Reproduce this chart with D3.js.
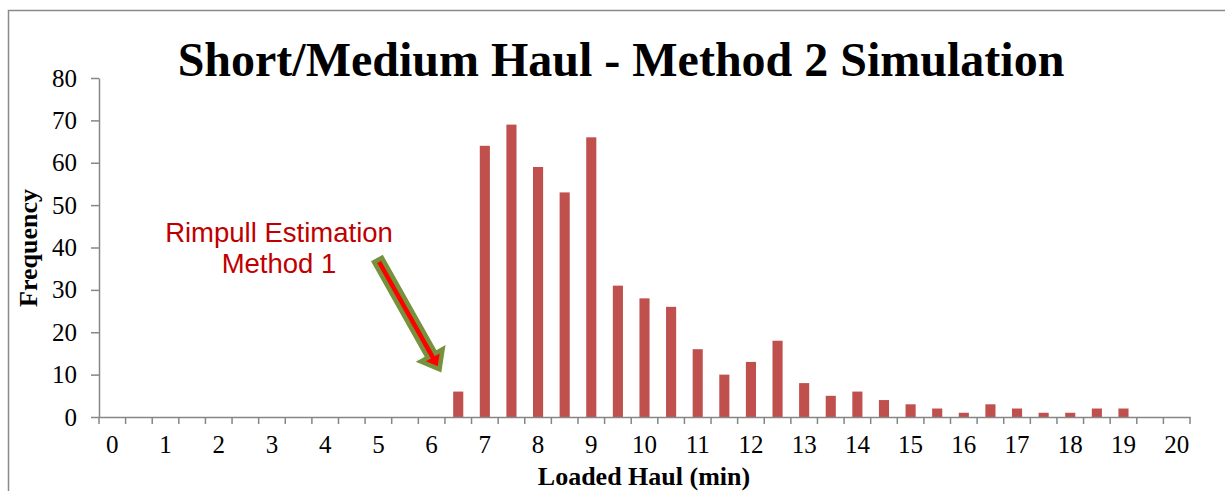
<!DOCTYPE html>
<html>
<head>
<meta charset="utf-8">
<script src="https://cdn.jsdelivr.net/npm/d3@7"></script>
<style>
  html, body { margin: 0; padding: 0; background: #fff; }
  svg { display: block; }
</style>
</head>
<body>
<svg id="chart" width="1225" height="491"></svg>
<script>
// ---- data ----
const categories = ["0","0.5","1","1.5","2","2.5","3","3.5","4","4.5","5","5.5","6","6.5","7","7.5","8","8.5","9","9.5","10","10.5","11","11.5","12","12.5","13","13.5","14","14.5","15","15.5","16","16.5","17","17.5","18","18.5","19","19.5","20"];
const frequency  = [0,0,0,0,0,0,0,0,0,0,0,0,0,6,64,69,59,53,66,31,28,26,16,10,13,18,8,5,6,4,3,2,1,3,2,1,1,2,2,0,0];
const xTickLabels = ["0","1","2","3","4","5","6","7","8","9","10","11","12","13","14","15","16","17","18","19","20"];
const yTicks = [0,10,20,30,40,50,60,70,80];
const titleText = "Short/Medium Haul - Method 2 Simulation";
const xTitle = "Loaded Haul (min)";
const yTitle = "Frequency";
const noteLines = ["Rimpull Estimation", "Method 1"];

// ---- layout ----
const svg = d3.select("#chart");
const plot = { left: 99, right: 1190, top: 78, bottom: 417 };
const axisColor = "#868686";
const serif = "'Liberation Serif', 'Times New Roman', serif";
const sans = "'Liberation Sans', Arial, sans-serif";

// outer chart border (only left/top visible in the crop)
svg.append("rect")
  .attr("x", 8.5).attr("y", 10.5)
  .attr("width", 1300).attr("height", 600)
  .attr("fill", "none").attr("stroke", "#8a8a8a").attr("stroke-width", 1.5);

const x = d3.scaleBand()
  .domain(categories)
  .range([plot.left, plot.right])
  .paddingInner(0.62)
  .paddingOuter(0.31);

const y = d3.scaleLinear().domain([0, 80]).range([plot.bottom, plot.top]);

// title
svg.append("text")
  .attr("x", 621).attr("y", 76)
  .attr("text-anchor", "middle")
  .attr("font-family", serif).attr("font-weight", "bold").attr("font-size", 48)
  .attr("fill", "#000")
  .text(titleText);

// bars
svg.append("g").selectAll("rect")
  .data(categories.map((c, i) => ({ c, v: frequency[i] })).filter(d => d.v > 0))
  .join("rect")
  .attr("x", d => x(d.c))
  .attr("y", d => y(d.v))
  .attr("width", x.bandwidth())
  .attr("height", d => y(0) - y(d.v))
  .attr("fill", "#c0504d");

// y axis
const yAxis = svg.append("g")
  .attr("transform", `translate(${plot.left},0)`)
  .call(d3.axisLeft(y).tickValues(yTicks).tickSize(8).tickSizeOuter(0).tickPadding(14));
yAxis.select(".domain").attr("stroke", axisColor).attr("stroke-width", 1.5);
yAxis.selectAll(".tick line").attr("stroke", axisColor).attr("stroke-width", 1.5);
yAxis.selectAll(".tick text")
  .attr("font-family", serif).attr("font-size", 25).attr("fill", "#000");

// x axis: labels at integer categories (centres), ticks at category boundaries
const xAxis = svg.append("g")
  .attr("transform", `translate(0,${plot.bottom})`)
  .call(d3.axisBottom(x).tickValues(xTickLabels).tickSize(0).tickSizeOuter(0).tickPadding(18));
xAxis.select(".domain").attr("stroke", axisColor).attr("stroke-width", 1.5);
xAxis.selectAll(".tick text")
  .attr("font-family", serif).attr("font-size", 25).attr("fill", "#000");

const step = x.step();
const boundaries = categories.map(c => x(c) + x.bandwidth() / 2 - step / 2)
  .concat([x(categories[categories.length - 1]) + x.bandwidth() / 2 + step / 2]);
xAxis.append("g").selectAll("line")
  .data(boundaries)
  .join("line")
  .attr("x1", d => d).attr("x2", d => d)
  .attr("y1", 0).attr("y2", 7)
  .attr("stroke", axisColor).attr("stroke-width", 1.5);

// axis titles
svg.append("text")
  .attr("x", 644).attr("y", 485)
  .attr("text-anchor", "middle")
  .attr("font-family", serif).attr("font-weight", "bold").attr("font-size", 26)
  .attr("fill", "#000")
  .text(xTitle);

svg.append("text")
  .attr("transform", "translate(37,248) rotate(-90)")
  .attr("text-anchor", "middle")
  .attr("font-family", serif).attr("font-weight", "bold").attr("font-size", 26)
  .attr("fill", "#000")
  .text(yTitle);

// annotation text
const note = svg.append("text")
  .attr("text-anchor", "middle")
  .attr("font-family", sans).attr("font-size", 27.5)
  .attr("fill", "#c00000");
noteLines.forEach((t, i) => {
  note.append("tspan").attr("x", 279).attr("y", 242 + i * 31).text(t);
});

// block arrow
const tail = [378, 260], tip = [441, 372];
const L = Math.hypot(tip[0] - tail[0], tip[1] - tail[1]) - 3;
const ang = Math.atan2(tip[1] - tail[1], tip[0] - tail[0]) * 180 / Math.PI;
const sh = 4.5, hh = 12.5, hl = 16;
const pts = [[0, -sh], [L - hl, -sh], [L - hl, -hh], [L, 0], [L - hl, hh], [L - hl, sh], [0, sh]];
svg.append("path")
  .attr("transform", `translate(${tail[0]},${tail[1]}) rotate(${ang})`)
  .attr("d", d3.line()(pts) + "Z")
  .attr("fill", "#ff0000")
  .attr("stroke", "#76923c")
  .attr("stroke-width", 4.5)
  .attr("stroke-linejoin", "miter");
</script>
</body>
</html>
